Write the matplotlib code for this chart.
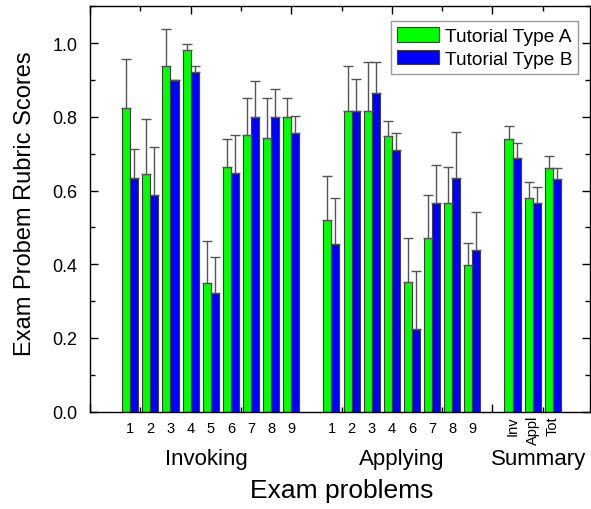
import matplotlib
matplotlib.use("Agg")
import matplotlib.pyplot as plt
from matplotlib.ticker import MultipleLocator, NullFormatter, FormatStrFormatter
from matplotlib.patches import Patch

plt.rcParams['font.family'] = ['Liberation Sans', 'DejaVu Sans']

# ---- data ----
invoking_labels = ["1", "2", "3", "4", "5", "6", "7", "8", "9"]
invoking_a = [0.825, 0.645, 0.937, 0.982, 0.349, 0.664, 0.750, 0.743, 0.800]
invoking_a_err = [0.133, 0.148, 0.102, 0.017, 0.113, 0.075, 0.102, 0.108, 0.051]
invoking_b = [0.634, 0.589, 0.901, 0.921, 0.322, 0.649, 0.799, 0.799, 0.755]
invoking_b_err = [0.079, 0.129, 0.0, 0.016, 0.098, 0.103, 0.099, 0.077, 0.048]

applying_labels = ["1", "2", "3", "4", "6", "7", "8", "9"]
applying_a = [0.520, 0.815, 0.815, 0.749, 0.353, 0.471, 0.566, 0.399]
applying_a_err = [0.119, 0.122, 0.135, 0.041, 0.118, 0.116, 0.099, 0.058]
applying_b = [0.455, 0.817, 0.866, 0.710, 0.224, 0.566, 0.633, 0.439]
applying_b_err = [0.125, 0.085, 0.084, 0.045, 0.157, 0.104, 0.127, 0.104]

summary_labels = ["Inv", "Appl", "Tot"]
summary_a = [0.739, 0.579, 0.662]
summary_a_err = [0.037, 0.043, 0.031]
summary_b = [0.689, 0.566, 0.632]
summary_b_err = [0.039, 0.043, 0.028]

group_names = ["Invoking", "Applying", "Summary"]
series_names = ["Tutorial Type A", "Tutorial Type B"]

# ---- layout ----
groups = [
    (invoking_labels, invoking_a, invoking_a_err, invoking_b, invoking_b_err),
    (applying_labels, applying_a, applying_a_err, applying_b, applying_b_err),
    (summary_labels, summary_a, summary_a_err, summary_b, summary_b_err),
]
positions = []
start = 2
for g in groups:
    n = len(g[0])
    positions.append([start + k for k in range(n)])
    start += n + 1

fig = plt.figure(figsize=(5.91, 5.10), dpi=100)
ax = fig.add_axes([90/591, 1 - 412.7/510, (590 - 90)/591, (412.7 - 7.3)/510])

w = 0.4
green = "#00FF00"
blue = "#0000FF"
edge = "#404040"
errc = "#555555"
for (labels, a, ae, b, be), pos in zip(groups, positions):
    xa = [p - w/2 for p in pos]
    xb = [p + w/2 for p in pos]
    ax.bar(xa, a, width=w, color=green, edgecolor=edge, linewidth=0.8, zorder=2)
    ax.bar(xb, b, width=w, color=blue, edgecolor=edge, linewidth=0.8, zorder=2)
    ax.errorbar(xa, a, yerr=[[0]*len(a), ae], fmt='none', ecolor=errc,
                elinewidth=1.0, capsize=3.5, capthick=1.0, zorder=3)
    ax.errorbar(xb, b, yerr=[[0]*len(b), be], fmt='none', ecolor=errc,
                elinewidth=1.0, capsize=3.5, capthick=1.0, zorder=3)

ax.set_xlim(0, 24.85)
ax.set_ylim(0, 1.1)
ax.set_axisbelow(True)

ax.xaxis.set_major_locator(MultipleLocator(5))
ax.xaxis.set_minor_locator(MultipleLocator(2.5))
ax.xaxis.set_major_formatter(NullFormatter())
ax.yaxis.set_major_locator(MultipleLocator(0.2))
ax.yaxis.set_minor_locator(MultipleLocator(0.1))
ax.yaxis.set_major_formatter(FormatStrFormatter('%.1f'))
ax.tick_params(which='both', direction='in', top=True, right=True, bottom=True, left=True)
ax.tick_params(which='major', length=5.5, width=1.0)
ax.tick_params(which='minor', length=3.5, width=1.0)
ax.tick_params(axis='y', labelsize=13, pad=9, colors='black')
for s in ax.spines.values():
    s.set_linewidth(1.0)

trans = ax.get_xaxis_transform()
for gi, ((labels, *_), pos) in enumerate(zip(groups, positions)):
    for lab, p in zip(labels, pos):
        if gi < 2:
            ax.text(p, -0.022, lab, transform=trans, ha='center', va='top', fontsize=10.5)
        else:
            ax.text(p, -0.008, lab, transform=trans, ha='center', va='top',
                    rotation=90, fontsize=10.5)

group_x = [sum(positions[0])/len(positions[0]) - 0.2,
           sum(positions[1])/len(positions[1]),
           sum(positions[2])/len(positions[2]) + 0.3]
for name, gx in zip(group_names, group_x):
    ax.text(gx, -0.115, name, transform=trans, ha='center', va='center', fontsize=16)

ax.text(12.5, -0.193, "Exam problems", transform=trans, ha='center', va='center', fontsize=19)
fig.text(25/591, 1 - 204/510, "Exam Probem Rubric Scores", rotation=90,
         ha='center', va='center', fontsize=17)

handles = [Patch(facecolor=green, edgecolor=edge, linewidth=0.8),
           Patch(facecolor=blue, edgecolor=edge, linewidth=0.8)]
leg = ax.legend(handles, series_names, loc='upper right', bbox_to_anchor=(0.976, 0.963),
                fontsize=13.8, frameon=True, fancybox=False, framealpha=1,
                edgecolor='#999999', handlelength=2.2, handleheight=0.8,
                handletextpad=0.3, labelspacing=0.25, borderpad=0.3, borderaxespad=0)
leg.get_frame().set_linewidth(1.0)

fig.savefig("out.png", dpi=100)
